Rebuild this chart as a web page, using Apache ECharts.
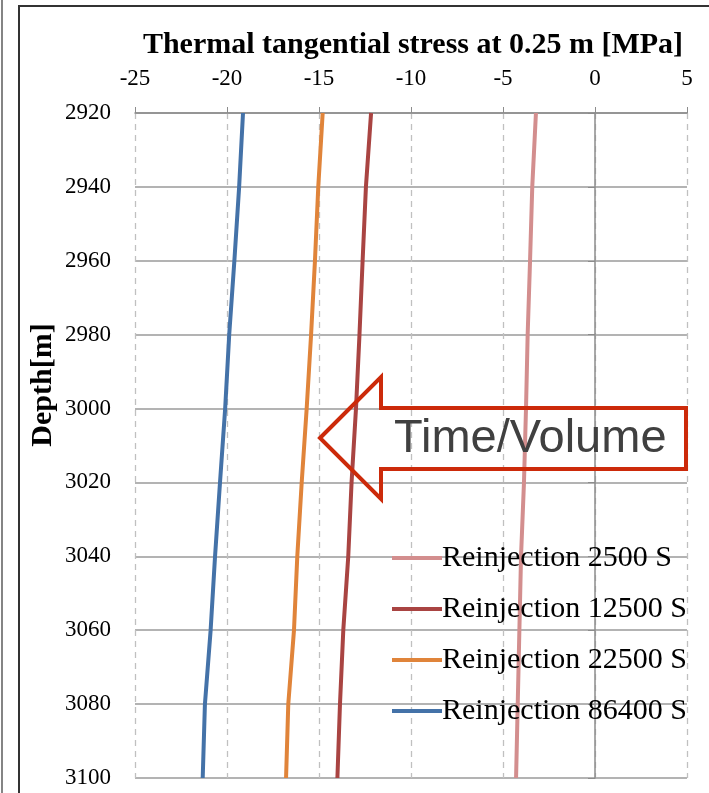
<!DOCTYPE html>
<html>
<head>
<meta charset="utf-8">
<script src="https://cdn.jsdelivr.net/npm/echarts@6/dist/echarts.min.js"></script>
<style>
html,body{margin:0;padding:0;background:#fff;}
#chart{width:709px;height:793px;}
</style>
</head>
<body>
<div id="chart"></div>
<script>
var depths = [2920, 2940, 2960, 2980, 3000, 3020, 3040, 3060, 3080, 3100];
var seriesNames = ['Reinjection 2500 S', 'Reinjection 12500 S', 'Reinjection 22500 S', 'Reinjection 86400 S'];
var stress2500  = [-3.21, -3.41, -3.53, -3.66, -3.75, -3.86, -4.02, -4.11, -4.20, -4.29];
var stress12500 = [-12.17, -12.45, -12.63, -12.80, -12.99, -13.23, -13.41, -13.68, -13.86, -14.00];
var stress22500 = [-14.80, -15.04, -15.22, -15.43, -15.67, -15.94, -16.18, -16.36, -16.67, -16.79];
var stress86400 = [-19.13, -19.34, -19.60, -19.88, -20.10, -20.38, -20.65, -20.89, -21.20, -21.32];
var seriesColors = ['#D38E8E', '#A94442', '#E0843A', '#4472A8'];
var title = 'Thermal tangential stress at 0.25 m [MPa]';
var yTitle = 'Depth[m]';
var arrowText = 'Time/Volume';

var allValues = [stress2500, stress12500, stress22500, stress86400];
function pairs(vals){ return vals.map(function(v,i){ return [v, depths[i]]; }); }

var chart = echarts.init(document.getElementById('chart'));
var serif = '"Liberation Serif", "Times New Roman", serif';

var series = seriesNames.map(function(n, k){
  return {
    name: n, type: 'line', data: pairs(allValues[k]),
    showSymbol: false, symbol: 'none',
    lineStyle: { color: seriesColors[k], width: 4 },
    itemStyle: { color: seriesColors[k] },
    z: 3
  };
});

var option = {
  animation: false,
  backgroundColor: '#fff',
  grid: { left: 135, top: 113, width: 552, height: 665 },
  title: {
    text: title, left: 408, top: 25, textAlign: 'center',
    textStyle: { fontFamily: serif, fontSize: 30, fontWeight: 'bold', color: '#000' }
  },
  legend: {
    orient: 'vertical', left: 387, top: 538,
    itemWidth: 50, itemHeight: 4, itemGap: 21,
    icon: 'rect',
    data: seriesNames,
    textStyle: { fontFamily: serif, fontSize: 30, color: '#000', padding: [0,0,0,-5] }
  },
  xAxis: {
    type: 'value', position: 'top', min: -25, max: 5, interval: 5,
    axisLine: { show: true, lineStyle: { color: '#8c8c8c', width: 1.5 } },
    axisTick: { show: true, inside: false, length: 6, lineStyle: { color: '#8c8c8c' } },
    axisLabel: { fontFamily: serif, fontSize: 23, color: '#000', margin: 23 },
    splitLine: { show: true, lineStyle: { color: '#c0c0c0', type: [6, 5], width: 1.3 } }
  },
  yAxis: {
    type: 'value', inverse: true, min: 2920, max: 3100, interval: 20,
    axisLine: { show: true, lineStyle: { color: '#8c8c8c', width: 1.5 } },
    axisTick: { show: true, length: 7, lineStyle: { color: '#8c8c8c' } },
    axisLabel: { fontFamily: serif, fontSize: 23, color: '#000', margin: 24,
      formatter: function(v){ return String(v); } },
    splitLine: { show: true, lineStyle: { color: '#9a9a9a', width: 1.5 } }
  },
  series: series,
  graphic: [
    { type: 'line', shape: { x1: 2, y1: 0, x2: 2, y2: 793 }, style: { stroke: '#333', lineWidth: 1.2 } },
    { type: 'rect', shape: { x: 19, y: 6, width: 700, height: 800 }, style: { fill: 'none', stroke: '#333', lineWidth: 2 } },
    { type: 'text', x: 43, y: 385, rotation: Math.PI / 2, z: 5,
      style: { text: yTitle, font: 'bold 30px "Liberation Serif", "Times New Roman", serif', fill: '#000',
        align: 'center', verticalAlign: 'middle', textAlign: 'center', textVerticalAlign: 'middle' } },
    { type: 'polygon', z: 10,
      shape: { points: [[320,438],[381,377],[381,408],[686,408],[686,469],[381,469],[381,499]] },
      style: { fill: 'none', stroke: '#CC2A0A', lineWidth: 4, lineJoin: 'miter' } },
    { type: 'text', z: 11, x: 394, y: 439,
      style: { text: arrowText, font: '47px "Liberation Sans", Arial, sans-serif', fill: '#404040', textVerticalAlign: 'middle', verticalAlign: 'middle' } }
  ]
};
chart.setOption(option);
</script>
</body>
</html>
